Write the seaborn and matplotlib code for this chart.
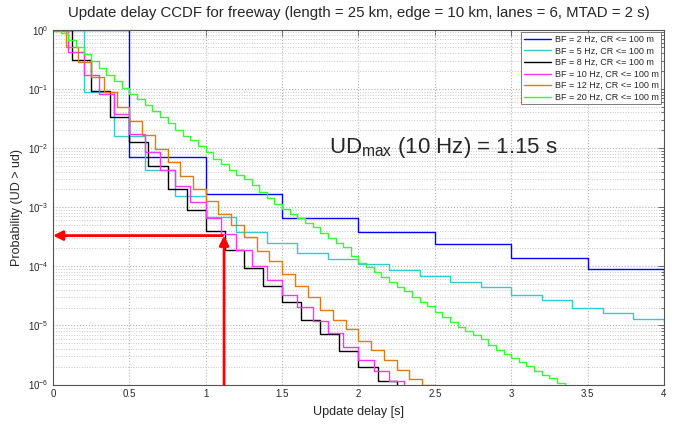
import numpy as np
import pandas as pd
import matplotlib
matplotlib.use("Agg")
import matplotlib.pyplot as plt
import seaborn as sns
from matplotlib.ticker import LogLocator, NullFormatter, LogFormatterMathtext, FixedLocator

# ---------------- data ----------------
bf_hz = [2, 5, 8, 10, 12, 20]
series_labels = [f"BF = {f} Hz, CR <= 100 m" for f in bf_hz]
colors = ["#0000FF", "#33CCCC", "#000000", "#FF33FF", "#E07B10", "#33FF33"]

# log10(CCDF) level of each step interval [k/BF, (k+1)/BF); last entry = level after the final step
log_ccdf_2hz = [0.0, -2.15, -2.77, -3.19, -3.42, -3.63, -3.86, -4.04, -4.17]
log_ccdf_5hz = [0.0, -1.05, -1.79, -2.37, -2.82, -3.16, -3.42, -3.60, -3.77, -3.88,
                -3.97, -4.07, -4.17, -4.26, -4.35, -4.48, -4.57, -4.70, -4.79, -4.89, -4.95]
log_ccdf_8hz = [0.0, -0.52, -1.03, -1.48, -1.90, -2.31, -2.69, -3.05, -3.40, -3.72,
                -4.03, -4.33, -4.61, -4.90, -5.14, -5.43, -5.70, -5.94, -7.0]
log_ccdf_10hz = [0.0, -0.38, -0.77, -1.08, -1.42, -1.76, -2.07, -2.37, -2.65, -2.92,
                 -3.19, -3.46, -3.73, -4.00, -4.24, -4.48, -4.69, -4.93, -5.13, -5.37,
                 -5.58, -5.77, -5.94, -7.0]
log_ccdf_12hz = [-0.02, -0.30, -0.55, -0.80, -1.05, -1.31, -1.55, -1.78, -2.01, -2.24,
                 -2.47, -2.69, -2.90, -3.12, -3.31, -3.51, -3.74, -3.91, -4.13, -4.33,
                 -4.52, -4.74, -4.91, -5.06, -5.26, -5.42, -5.59, -5.76, -5.91, -6.0, -7.0]
log_ccdf_20hz = [0.0, -0.06, -0.18, -0.30, -0.41, -0.53, -0.64, -0.76, -0.87, -0.98,
                 -1.08, -1.18, -1.28, -1.38, -1.48, -1.58, -1.69, -1.79, -1.87, -1.97,
                 -2.07, -2.18, -2.27, -2.37, -2.46, -2.53, -2.63, -2.75, -2.84, -2.94,
                 -3.03, -3.12, -3.18, -3.26, -3.34, -3.43, -3.52, -3.60, -3.68, -3.82,
                 -3.94, -4.02, -4.09, -4.18, -4.27, -4.35, -4.42, -4.52, -4.60, -4.67,
                 -4.78, -4.86, -4.94, -5.02, -5.09, -5.16, -5.23, -5.33, -5.41, -5.49,
                 -5.55, -5.61, -5.69, -5.77, -5.83, -5.89, -5.97, -7.0]
all_logs = [log_ccdf_2hz, log_ccdf_5hz, log_ccdf_8hz, log_ccdf_10hz, log_ccdf_12hz, log_ccdf_20hz]

ud_max = 1.12          # annotated delay (s)
p_at_udmax = 3.3e-4    # probability at that delay
x_ticks = [0, 0.5, 1, 1.5, 2, 2.5, 3, 3.5, 4]

rows = []
for f, lab, logs in zip(bf_hz, series_labels, all_logs):
    for k, lv in enumerate(logs):
        rows.append({"x": k / f, "p": 10.0 ** lv, "series": lab})
df = pd.DataFrame(rows)

# ---------------- style ----------------
sns.set_style("white")
plt.rcParams["font.family"] = ["Liberation Sans", "DejaVu Sans"]
plt.rcParams["mathtext.fontset"] = "custom"
plt.rcParams["mathtext.rm"] = "Liberation Sans"
plt.rcParams["mathtext.it"] = "Liberation Sans:italic"
plt.rcParams["mathtext.bf"] = "Liberation Sans:bold"

fig = plt.figure(figsize=(6.83, 4.24), dpi=100)
ax = fig.add_axes([0.0776, 0.093, 0.8945, 0.837])

sns.lineplot(data=df, x="x", y="p", hue="series", hue_order=series_labels,
             palette=dict(zip(series_labels, colors)), estimator=None,
             drawstyle="steps-post", linewidth=1.0, ax=ax)

ax.set_yscale("log")
ax.set_xlim(0, 4)
ax.set_ylim(1e-6, 1)

ax.xaxis.set_major_locator(FixedLocator(x_ticks))
ax.set_xticklabels([f"{v:g}" for v in x_ticks])
ax.yaxis.set_major_locator(LogLocator(base=10, numticks=10))
ax.yaxis.set_minor_locator(LogLocator(base=10, subs=np.arange(2, 10), numticks=100))
ax.yaxis.set_major_formatter(LogFormatterMathtext())
ax.yaxis.set_minor_formatter(NullFormatter())

ax.grid(True, which="major", axis="both", color="#b0b0b0", linestyle=":", linewidth=0.8)
ax.grid(True, which="minor", axis="y", color="#c8c8c8", linestyle=":", linewidth=0.7)

ax.tick_params(which="both", direction="in", top=True, right=True, labelsize=7,
               width=0.6, color="#555555")
ax.tick_params(which="major", length=4)
ax.tick_params(which="minor", length=2)
for s in ax.spines.values():
    s.set_color("#555555")
    s.set_linewidth(0.8)

ax.set_xlabel("Update delay [s]", fontsize=9, labelpad=5)
ax.set_ylabel("Probability (UD > ud)", fontsize=9, labelpad=3)
ax.set_title("Update delay CCDF for freeway (length = 25 km, edge = 10 km, lanes = 6, MTAD = 2 s)",
             fontsize=10.8, pad=9)

handles, labels = ax.get_legend_handles_labels()
leg = ax.legend(handles, labels, loc="upper right", fontsize=6.5, frameon=True, fancybox=False,
                borderaxespad=0.3, handlelength=3.0, handletextpad=0.4, labelspacing=0.28,
                borderpad=0.3)
leg.get_frame().set_edgecolor("#444444")
leg.get_frame().set_linewidth(0.6)

# red annotation arrows
ax.annotate("", xy=(0.0, p_at_udmax), xytext=(ud_max - 0.01, p_at_udmax),
            arrowprops=dict(arrowstyle="-|>", color="red", lw=2, mutation_scale=14,
                            shrinkA=0, shrinkB=0))
ax.annotate("", xy=(ud_max, p_at_udmax), xytext=(ud_max, 1e-6),
            arrowprops=dict(arrowstyle="-|>", color="red", lw=2, mutation_scale=14,
                            shrinkA=0, shrinkB=0))

ax.text(1.81, 1e-2, r"UD$_{\mathrm{max}}$ (10 Hz) = 1.15 s", fontsize=16, ha="left", va="center")

fig.savefig("out.png", dpi=100)
